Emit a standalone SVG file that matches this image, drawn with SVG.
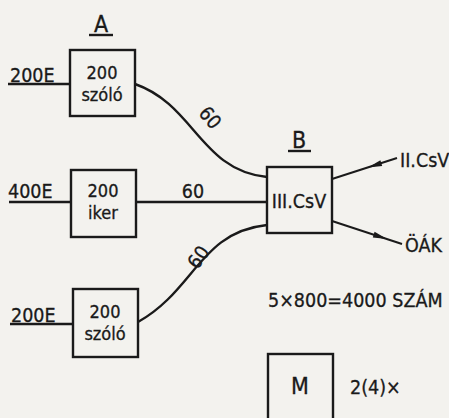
<svg xmlns="http://www.w3.org/2000/svg" width="449" height="418" viewBox="0 0 449 418">
<style>
text{font-family:"DejaVu Sans Condensed","DejaVu Sans",sans-serif;fill:#1a1a1a;font-size:19.5px;stroke:#1a1a1a;stroke-width:0.3}
.big{font-size:23px}
.in{font-size:18px}
.box{fill:none;stroke:#1a1a1a;stroke-width:2.4}
.ln{fill:none;stroke:#1a1a1a;stroke-width:2.4}
.thin{stroke-width:2}
.c{text-anchor:middle}
.ah{fill:#1a1a1a}
</style>
<rect width="449" height="418" fill="#f3f2ee"/>
<g id="label-A"><text x="101" y="32" class="c big">A</text><line x1="89" y1="35" x2="113" y2="35" class="ln"/></g>
<g id="label-B"><text x="299" y="148" class="c big">B</text><line x1="288" y1="151" x2="311" y2="151" class="ln"/></g>
<g id="node-a1"><rect x="70" y="50" width="65" height="66" class="box"/><text x="102" y="79" class="c in">200</text><text x="102" y="101" class="c in">szóló</text></g>
<g id="node-a2"><rect x="71" y="170" width="65" height="67" class="box"/><text x="103" y="197" class="c in">200</text><text x="103" y="219" class="c in">iker</text></g>
<g id="node-a3"><rect x="73" y="289" width="65" height="68" class="box"/><text x="105" y="318" class="c in">200</text><text x="105" y="340" class="c in">szóló</text></g>
<g id="node-b"><rect x="267" y="167" width="65" height="66" class="box"/><text x="299" y="208" class="c">III.CsV</text></g>
<g id="node-m"><rect x="268" y="354" width="65" height="80" class="box"/><text x="300" y="394" class="c big">M</text></g>
<g id="connectors">
<line x1="8" y1="84" x2="70" y2="84" class="ln"/>
<line x1="9" y1="202" x2="71" y2="202" class="ln"/>
<line x1="10" y1="324" x2="73" y2="324" class="ln"/>
<path d="M135,84 C195,105 200,170 267,177" class="ln"/>
<line x1="136" y1="202" x2="267" y2="202" class="ln"/>
<path d="M138,322 C195,290 200,232 267,225" class="ln"/>
<line x1="397" y1="158" x2="332" y2="179" class="ln thin"/>
<polygon points="368,167.5 382.2,166.1 380.4,160.3" class="ah"/>
<line x1="332" y1="221" x2="402" y2="244" class="ln thin"/>
<polygon points="387,239 372.8,237.4 374.6,231.8" class="ah"/>
</g>
<g id="labels">
<text x="10" y="82">200E</text>
<text x="8" y="198">400E</text>
<text x="11" y="322">200E</text>
<text x="193" y="198" class="c">60</text>
<text x="0" y="0" class="c" transform="translate(205,122) rotate(50)">60</text>
<text x="0" y="0" class="c" transform="translate(204,261) rotate(-55)">60</text>
<text x="400" y="167">II.CsV</text>
<text x="405" y="252">ÖÁK</text>
<text x="268" y="307">5×800=4000  SZÁM</text>
<text x="350" y="394">2(4)×</text>
</g>
</svg>
